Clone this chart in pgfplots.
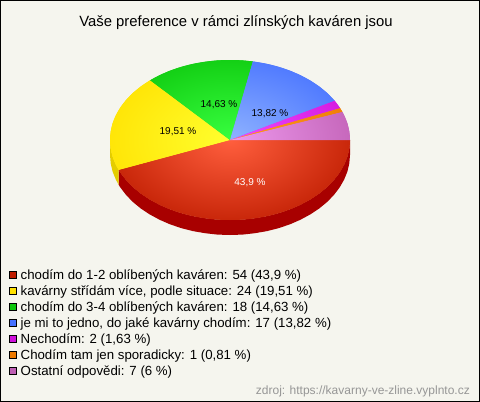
\documentclass[border=0pt]{standalone}
\usepackage{fontspec}
\setmainfont{Liberation Sans}
\usepackage{pgfplots}
\pgfplotsset{compat=1.18}
\definecolor{bgc}{RGB}{245,245,238}
\definecolor{cRed}{RGB}{190,28,0}
\definecolor{cYel}{RGB}{255,225,0}
\definecolor{cGre}{RGB}{12,198,12}
\definecolor{cBlu}{RGB}{68,112,255}
\definecolor{cPur}{RGB}{208,18,220}
\definecolor{cOra}{RGB}{238,122,0}
\definecolor{cOst}{RGB}{190,95,180}
\definecolor{sRed}{RGB}{168,0,0}
\definecolor{sYel}{RGB}{228,205,0}
\pgfdeclareradialshading{gRed}{\pgfpoint{0bp}{0bp}}{rgb(0bp)=(1,.37,.24); rgb(30bp)=(.745,.11,0); rgb(50bp)=(.745,.11,0)}
\pgfdeclareradialshading{gYel}{\pgfpoint{0bp}{0bp}}{rgb(0bp)=(1,1,.18); rgb(30bp)=(1,.88,0); rgb(50bp)=(1,.88,0)}
\pgfdeclareradialshading{gGre}{\pgfpoint{0bp}{0bp}}{rgb(0bp)=(.22,1,.25); rgb(30bp)=(.05,.78,.05); rgb(50bp)=(.05,.78,.05)}
\pgfdeclareradialshading{gBlu}{\pgfpoint{0bp}{0bp}}{rgb(0bp)=(.56,.7,1); rgb(30bp)=(.27,.44,1); rgb(50bp)=(.27,.44,1)}
\pgfdeclareradialshading{gPur}{\pgfpoint{0bp}{0bp}}{rgb(0bp)=(.93,.3,1); rgb(30bp)=(.82,.07,.86); rgb(50bp)=(.82,.07,.86)}
\pgfdeclareradialshading{gOra}{\pgfpoint{0bp}{0bp}}{rgb(0bp)=(1,.6,.15); rgb(30bp)=(.93,.48,0); rgb(50bp)=(.93,.48,0)}
\pgfdeclareradialshading{gOst}{\pgfpoint{0bp}{0bp}}{rgb(0bp)=(.93,.6,.93); rgb(30bp)=(.75,.37,.7); rgb(50bp)=(.75,.37,.7)}
\begin{document}
\begin{tikzpicture}
\begin{axis}[
  scale only axis, width=479pt, height=401pt,
  xmin=0.5, xmax=479.5, ymin=0.5, ymax=401.5, y dir=reverse,
  xtick=\empty, ytick=\empty, clip=false,
  axis line style={black, line width=1pt},
  axis background/.style={fill=bgc},
  legend cell align=left,
  legend image code/.code={
    \draw[#1,draw=black,line width=.7pt] (0pt,1pt) rectangle (7pt,8pt);
  },
  legend style={at={(axis cs:9.5,268)}, anchor=north west, draw=none, fill=none,
    inner sep=0pt, outer sep=0pt, row sep=0pt, column sep=3.5pt,
    font=\fontsize{13.25}{15}\selectfont,
    nodes={inner sep=0pt, text height=11.5pt, text depth=4.5pt, anchor=base west}},
]
% side faces
\addplot[fill=sRed, draw=none, forget plot] coordinates {
 (350,140)(349.3,148.4)(347.4,156.6)(344.1,164.7)(339.6,172.5)(333.9,180)(327.1,187)(319.2,193.5)(310.3,199.4)(300.5,204.7)(290,209.3)(278.8,213.1)(267.1,216.1)(254.9,218.2)(242.5,219.6)(230,220)(217.5,219.6)(205.1,218.2)(192.9,216.1)(181.2,213.1)(170,209.3)(159.5,204.7)(149.7,199.4)(140.8,193.5)(132.9,187)(126.1,180)(120.4,172.5)(118.7,169.9)
 (118.7,184.9)(120.4,187.5)(126.1,195)(132.9,202)(140.8,208.5)(149.7,214.4)(159.5,219.7)(170,224.3)(181.2,228.1)(192.9,231.1)(205.1,233.2)(217.5,234.6)(230,235)(242.5,234.6)(254.9,233.2)(267.1,231.1)(278.8,228.1)(290,224.3)(300.5,219.7)(310.3,214.4)(319.2,208.5)(327.1,202)(333.9,195)(339.6,187.5)(344.1,179.7)(347.4,171.6)(349.3,163.4)(350,155)
} -- cycle;
\addplot[fill=sYel, draw=none, forget plot] coordinates {
 (118.7,169.9)(115.9,164.7)(112.6,156.6)(110.7,148.4)(110,140)(110,155)(110.7,163.4)(112.6,171.6)(115.9,179.7)(118.7,184.9)
} -- cycle;
% top faces
\addplot[fill=cRed, draw=none] coordinates {
 (230,140)(350,140)(349.3,148.4)(347.4,156.6)(344.1,164.7)(339.6,172.5)(333.9,180)(327.1,187)(319.2,193.5)(310.3,199.4)(300.5,204.7)(290,209.3)(278.8,213.1)(267.1,216.1)(254.9,218.2)(242.5,219.6)(230,220)(217.5,219.6)(205.1,218.2)(192.9,216.1)(181.2,213.1)(170,209.3)(159.5,204.7)(149.7,199.4)(140.8,193.5)(132.9,187)(126.1,180)(120.4,172.5)(118.7,169.9)
} -- cycle;
\addlegendentry{chodím do 1-2 oblíbených kaváren: 54 (43,9 \%)}
\addplot[fill=cYel, draw=none] coordinates {
 (230,140)(118.7,169.9)(115.9,164.7)(112.6,156.6)(110.7,148.4)(110,140)(110.7,131.6)(112.6,123.4)(115.9,115.3)(120.4,107.5)(126.1,100)(132.9,93)(140.8,86.5)(149.7,80.6)(150.2,80.3)
} -- cycle;
\addlegendentry{kavárny střídám více, podle situace: 24 (19,51 \%)}
\addplot[fill=cGre, draw=none] coordinates {
 (230,140)(150.2,80.3)(159.5,75.3)(170,70.7)(181.2,66.9)(192.9,63.9)(205.1,61.8)(217.5,60.4)(230,60)(242.5,60.4)(252.8,61.5)
} -- cycle;
\addlegendentry{chodím do 3-4 oblíbených kaváren: 18 (14,63 \%)}
\addplot[fill=cBlu, draw=none] coordinates {
 (230,140)(252.8,61.5)(254.9,61.8)(267.1,63.9)(278.8,66.9)(290,70.7)(300.5,75.3)(310.3,80.6)(319.2,86.5)(327.1,93)(333.9,100)(334.7,100.8)
} -- cycle;
\addlegendentry{je mi to jedno, do jaké kavárny chodím: 17 (13,82 \%)}
\addplot[fill=cPur, draw=none] coordinates {
 (230,140)(334.7,100.8)(340.1,108.2)
} -- cycle;
\addlegendentry{Nechodím: 2 (1,63 \%)}
\addplot[fill=cOra, draw=none] coordinates {
 (230,140)(340.1,108.2)(342.4,112)
} -- cycle;
\addlegendentry{Chodím tam jen sporadicky: 1 (0,81 \%)}
\addplot[fill=cOst, draw=none] coordinates {
 (230,140)(342.4,112)(344.1,115.3)(347.4,123.4)(349.3,131.6)(350,140)
} -- cycle;
\addlegendentry{Ostatní odpovědi: 7 (6 \%)}
% radial gloss on each top face, clipped to the sector
\begin{scope}
\clip (axis cs:230,140) -- (axis cs:470,140) -- (axis cs:470,300) -- (axis cs:7.4,300) -- (axis cs:7.4,199.8) -- cycle;
\shade[shading=gRed] (axis cs:230,140) ellipse [x radius=120, y radius=80];
\end{scope}
\begin{scope}
\clip (axis cs:230,140) -- (axis cs:7.4,199.8) -- (axis cs:5,140) -- (axis cs:70.4,20.6) -- cycle;
\shade[shading=gYel] (axis cs:230,140) ellipse [x radius=120, y radius=80];
\end{scope}
\begin{scope}
\clip (axis cs:230,140) -- (axis cs:70.4,20.6) -- (axis cs:270.1,2) -- cycle;
\shade[shading=gGre] (axis cs:230,140) ellipse [x radius=120, y radius=80];
\end{scope}
\begin{scope}
\clip (axis cs:230,140) -- (axis cs:270.1,2) -- (axis cs:439.4,61.6) -- cycle;
\shade[shading=gBlu] (axis cs:230,140) ellipse [x radius=120, y radius=80];
\end{scope}
\begin{scope}
\clip (axis cs:230,140) -- (axis cs:439.4,61.6) -- (axis cs:450.2,76.4) -- cycle;
\shade[shading=gPur] (axis cs:230,140) ellipse [x radius=120, y radius=80];
\end{scope}
\begin{scope}
\clip (axis cs:230,140) -- (axis cs:450.2,76.4) -- (axis cs:454.8,84) -- cycle;
\shade[shading=gOra] (axis cs:230,140) ellipse [x radius=120, y radius=80];
\end{scope}
\begin{scope}
\clip (axis cs:230,140) -- (axis cs:454.8,84) -- (axis cs:470,140) -- cycle;
\shade[shading=gOst] (axis cs:230,140) ellipse [x radius=120, y radius=80];
\end{scope}
\node[anchor=center, font=\fontsize{14.85}{16}\selectfont] at (axis cs:236,23) {Vaše preference v rámci zlínských kaváren jsou};
\node[font=\fontsize{10}{12}\selectfont, text=black] at (axis cs:178,132) {19,51 \%};
\node[font=\fontsize{10}{12}\selectfont, text=black] at (axis cs:219,105) {14,63 \%};
\node[font=\fontsize{10}{12}\selectfont, text=black] at (axis cs:270,114) {13,82 \%};
\node[font=\fontsize{10}{12}\selectfont, text=white] at (axis cs:250,183) {43,9 \%};
\node[anchor=east, inner sep=0pt, font=\fontsize{12}{14}\selectfont, text={rgb,255:red,150;green,150;blue,150}] at (axis cs:470,391) {zdroj: https://kavarny-ve-zline.vyplnto.cz};
\end{axis}
\end{tikzpicture}
\end{document}
